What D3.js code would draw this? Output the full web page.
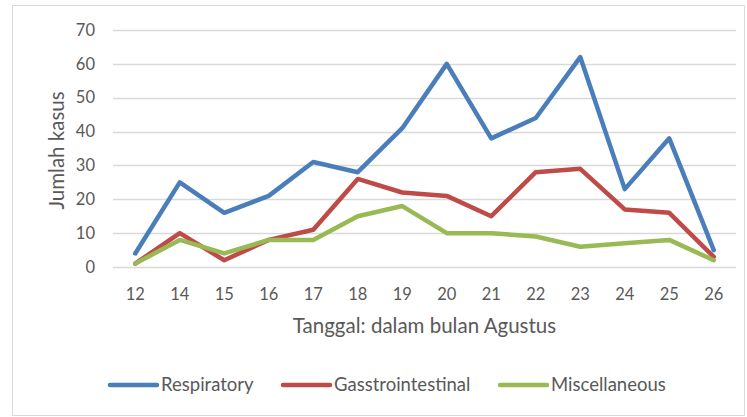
<!DOCTYPE html>
<html>
<head>
<meta charset="utf-8">
<script src="https://cdn.jsdelivr.net/npm/d3@7"></script>
<style>
  body { margin: 0; background: #fff; }
  text { font-family: Lato, "Open Sans", sans-serif; fill: #595959; }
</style>
</head>
<body>
<div id="chart"></div>
<script>
var days = ["12", "14", "15", "16", "17", "18", "19", "20", "21", "22", "23", "24", "25", "26"];
var respiratory = [4, 25, 16, 21, 31, 28, 41, 60, 38, 44, 62, 23, 38, 5];
var gastro = [1, 10, 2, 8, 11, 26, 22, 21, 15, 28, 29, 17, 16, 3];
var misc = [1, 8, 4, 8, 8, 15, 18, 10, 10, 9, 6, 7, 8, 2];
var yTicks = [0, 10, 20, 30, 40, 50, 60, 70];
var seriesNames = ["Respiratory", "Gasstrointestinal", "Miscellaneous"];

var colors = ["#4a7ebb", "#be4b48", "#98b954"];
var series = [respiratory, gastro, misc];

var W = 747, H = 417;
var margin = { top: 30, right: 11, bottom: 150, left: 113 },
    width = W - margin.left - margin.right,
    height = H - margin.top - margin.bottom;

var svg = d3.select("#chart").append("svg")
    .attr("width", W)
    .attr("height", H);

// outer chart border
svg.append("rect")
    .attr("x", 12.5).attr("y", 5.5)
    .attr("width", 732).attr("height", 410)
    .attr("fill", "none")
    .attr("stroke", "#d9d9d9");

var g = svg.append("g")
    .attr("transform", "translate(" + margin.left + "," + margin.top + ")");

var x = d3.scaleBand().domain(days).range([0, width]);
var y = d3.scaleLinear().domain([0, 70]).range([height, 0]);

// gridlines
g.selectAll(".grid")
    .data(yTicks)
  .enter().append("line")
    .attr("x1", 0).attr("x2", width)
    .attr("y1", function(d) { return Math.round(y(d)) + 0.5; })
    .attr("y2", function(d) { return Math.round(y(d)) + 0.5; })
    .attr("stroke", "#d9d9d9")
    .attr("stroke-width", 1.3);

// y tick labels
g.selectAll(".ylab")
    .data(yTicks)
  .enter().append("text")
    .attr("x", -18)
    .attr("y", function(d) { return y(d); })
    .attr("dy", "0.35em")
    .style("text-anchor", "end")
    .style("font-size", "16.5px")
    .text(function(d) { return d; });

// x tick labels
g.selectAll(".xlab")
    .data(days)
  .enter().append("text")
    .attr("x", function(d) { return x(d) + x.bandwidth() / 2; })
    .attr("y", height + 27)
    .attr("dy", "0.35em")
    .style("text-anchor", "middle")
    .style("font-size", "16.5px")
    .text(function(d) { return d; });

// axis titles
svg.append("text")
    .attr("transform", "translate(57," + (margin.top + height / 2 + 2) + ") rotate(-90)")
    .attr("dy", "0.35em")
    .style("text-anchor", "middle")
    .style("font-size", "20.5px")
    .text("Jumlah kasus");

svg.append("text")
    .attr("x", margin.left + width / 2)
    .attr("y", 326)
    .attr("dy", "0.35em")
    .style("text-anchor", "middle")
    .style("font-size", "20.5px")
    .text("Tanggal: dalam bulan Agustus");

// lines
var line = d3.line()
    .x(function(d, i) { return x(days[i]) + x.bandwidth() / 2; })
    .y(function(d) { return y(d); });

g.selectAll(".series")
    .data(series)
  .enter().append("path")
    .attr("d", line)
    .attr("fill", "none")
    .attr("stroke", function(d, i) { return colors[i]; })
    .attr("stroke-width", 4.5)
    .attr("stroke-linejoin", "round")
    .attr("stroke-linecap", "round");

// legend
var legendX = [110, 283, 500];
var legend = svg.selectAll(".legend")
    .data(seriesNames)
  .enter().append("g")
    .attr("transform", function(d, i) { return "translate(" + legendX[i] + ",385)"; });

legend.append("line")
    .attr("x1", 0).attr("x2", 47)
    .attr("stroke", function(d, i) { return colors[i]; })
    .attr("stroke-width", 4.5)
    .attr("stroke-linecap", "round");

legend.append("text")
    .attr("x", 51)
    .attr("dy", "0.35em")
    .style("font-size", "18.5px")
    .text(function(d) { return d; });
</script>
</body>
</html>
